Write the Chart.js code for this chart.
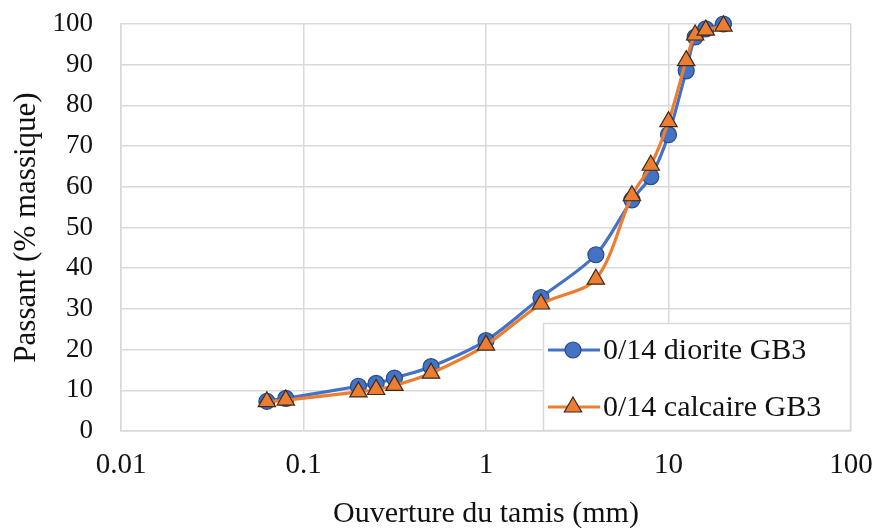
<!DOCTYPE html>
<html>
<head>
<meta charset="utf-8">
<script src="https://cdn.jsdelivr.net/npm/chart.js@4"></script>
<style>
  html, body { margin: 0; padding: 0; background: #fff; }
  #wrap { width: 877px; height: 532px; }
</style>
</head>
<body>
<div id="wrap"><canvas id="myChart" width="877" height="532"></canvas></div>
<script>
// sieve openings (mm)
const sizes = [0.063, 0.08, 0.2, 0.25, 0.315, 0.5, 1, 2, 4, 6.3, 8, 10, 12.5, 14, 16, 20];
const diorite = [7.3, 8.0, 11.0, 11.7, 13.0, 15.8, 22.2, 32.8, 43.3, 56.8, 62.5, 72.8, 88.5, 96.8, 98.8, 100];
const calcaire = [7.2, 7.6, 9.6, 10.2, 11.2, 14.2, 21.1, 31.2, 37.3, 57.8, 65.3, 76.0, 91.0, 97.3, 98.5, 99.5];
const xTicks = [0.01, 0.1, 1, 10, 100];
const seriesNames = ["0/14 diorite GB3", "0/14 calcaire GB3"];

const FONT = "'Liberation Serif', 'Times New Roman', serif";
const BLUE = "#4472C4";
const ORANGE = "#ED7D31";
const GRID = "#d9d9d9";
const TEXT = "#111";

const toPoints = (ys) => sizes.map((x, i) => ({ x: x, y: ys[i] }));

// legend box drawn inside the plot, bottom right
const innerLegend = {
  id: "innerLegend",
  afterDraw(chart) {
    const { ctx, chartArea } = chart;
    const w = 308, h = 108;
    const x0 = chartArea.right - w, y0 = chartArea.bottom - h;
    ctx.save();
    ctx.fillStyle = "#fff";
    ctx.fillRect(x0, y0, w, h);
    ctx.strokeStyle = GRID;
    ctx.lineWidth = 1.5;
    ctx.strokeRect(x0 + 0.5, y0 + 0.5, w - 1, h - 1);

    const rows = [
      { color: BLUE, style: "circle", border: "#2a4a80", r: 8 },
      { color: ORANGE, style: "triangle", border: "#3a2a1a", r: 10 },
    ];
    rows.forEach((row, i) => {
      const cy = y0 + 27 + i * 57;
      ctx.strokeStyle = row.color;
      ctx.lineWidth = 3;
      ctx.beginPath();
      ctx.moveTo(x0 + 5, cy);
      ctx.lineTo(x0 + 57, cy);
      ctx.stroke();
      ctx.fillStyle = row.color;
      ctx.strokeStyle = row.border;
      ctx.lineWidth = 1.2;
      Chart.helpers.drawPoint(ctx, { pointStyle: row.style, radius: row.r, rotation: 0, borderWidth: 1.2 }, x0 + 30, cy);
      ctx.fillStyle = TEXT;
      ctx.font = "30px " + FONT;
      ctx.textAlign = "left";
      ctx.textBaseline = "middle";
      ctx.fillText(seriesNames[i], x0 + 60, cy + 1);
    });
    ctx.restore();
  },
};

const ctx = document.getElementById("myChart").getContext("2d");

new Chart(ctx, {
  type: "scatter",
  data: {
    datasets: [
      {
        label: seriesNames[0],
        data: toPoints(diorite),
        showLine: true,
        borderColor: BLUE,
        borderWidth: 3.2,
        backgroundColor: BLUE,
        pointStyle: "circle",
        pointRadius: 8,
        pointBorderColor: "#2a4a80",
        pointBorderWidth: 1.2,
        tension: 0.3,
        clip: false,
        order: 1,
      },
      {
        label: seriesNames[1],
        data: toPoints(calcaire),
        showLine: true,
        borderColor: ORANGE,
        borderWidth: 3.2,
        backgroundColor: ORANGE,
        pointStyle: "triangle",
        pointRadius: 10,
        pointBorderColor: "#3a2a1a",
        pointBorderWidth: 1.2,
        tension: 0.3,
        clip: false,
        order: 0,
      },
    ],
  },
  options: {
    responsive: false,
    animation: false,
    layout: { padding: { top: 24, right: 26, left: 0, bottom: 0 } },
    scales: {
      x: {
        type: "logarithmic",
        min: 0.01,
        max: 100,
        afterBuildTicks: (scale) => {
          scale.ticks = xTicks.map((v) => ({ value: v }));
        },
        afterFit: (scale) => {
          scale.height = 101;
          scale.paddingLeft = 0;
          scale.paddingRight = 0;
        },
        grid: { color: GRID, lineWidth: 1.5, drawTicks: false },
        border: { color: GRID, width: 1.5 },
        ticks: {
          color: TEXT,
          padding: 17,
          maxRotation: 0,
          font: { family: FONT, size: 29 },
          callback: (value) => String(value),
        },
        title: {
          display: true,
          text: "Ouverture du tamis (mm)",
          color: TEXT,
          font: { family: FONT, size: 30 },
          padding: { top: 0, bottom: 0 },
        },
      },
      y: {
        min: 0,
        max: 100,
        afterFit: (scale) => {
          scale.width = 121;
          scale.paddingTop = 0;
          scale.paddingBottom = 0;
        },
        grid: { color: GRID, lineWidth: 1.5, drawTicks: false },
        border: { color: GRID, width: 1.5 },
        ticks: {
          stepSize: 10,
          color: TEXT,
          padding: 28,
          font: { family: FONT, size: 27 },
        },
        title: {
          display: true,
          text: "Passant (% massique)",
          color: TEXT,
          font: { family: FONT, size: 31 },
          padding: { top: 8, bottom: 0 },
        },
      },
    },
    plugins: {
      legend: { display: false },
      tooltip: { enabled: false },
    },
  },
  plugins: [innerLegend],
});
</script>
</body>
</html>
